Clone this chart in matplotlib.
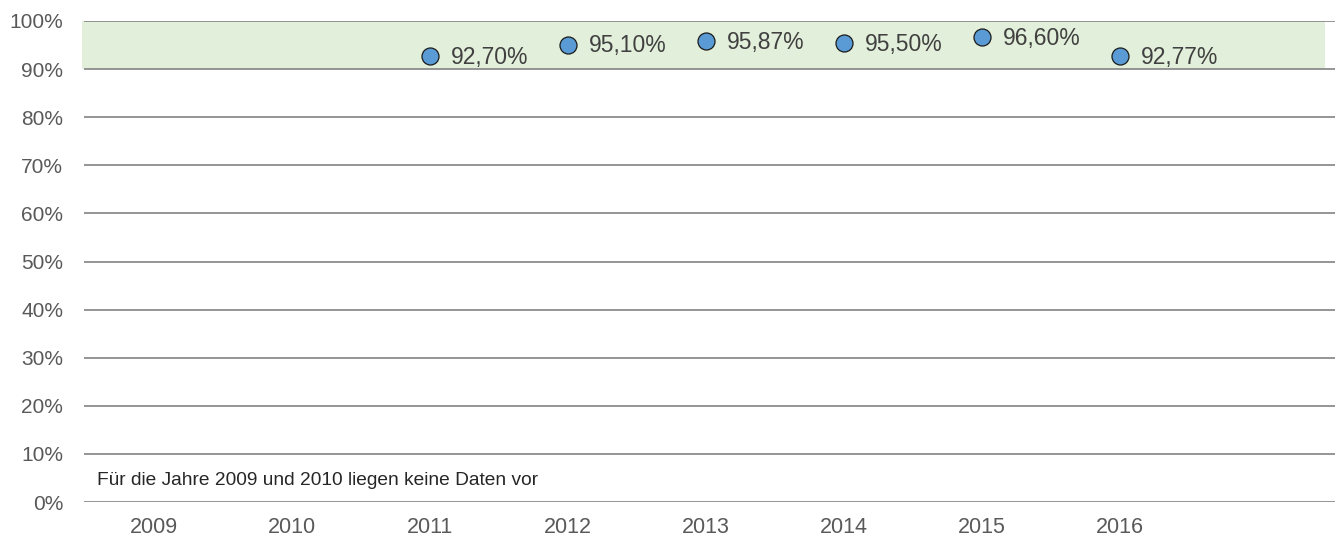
import matplotlib
matplotlib.use("Agg")
import matplotlib.pyplot as plt

plt.rcParams['font.family'] = ['Liberation Sans', 'DejaVu Sans']

years = ["2009", "2010", "2011", "2012", "2013", "2014", "2015", "2016"]
values = [None, None, 92.70, 95.10, 95.87, 95.50, 96.60, 92.77]
value_labels = ["", "", "92,70%", "95,10%", "95,87%", "95,50%", "96,60%", "92,77%"]
y_ticks = [0, 10, 20, 30, 40, 50, 60, 70, 80, 90, 100]
y_tick_labels = [f"{t}%" for t in y_ticks]
target_low, target_high = 90, 100
note = "Für die Jahre 2009 und 2010 liegen keine Daten vor"

W, H = 1335, 539
fig = plt.figure(figsize=(W / 100, H / 100), dpi=100)
ax = fig.add_axes([84 / W, (H - 502) / H, (1335 - 84) / W, (502 - 21) / H])

ax.set_xlim(-0.507, 8.558)
ax.set_ylim(0, 100)

# target corridor
ax.fill_between([-0.522, 8.486], target_low, target_high, color="#E2EFDA",
                lw=0, zorder=0, clip_on=False)

# horizontal gridlines
for t in y_ticks:
    ax.axhline(t, color="#8C8C8C", lw=1.3, zorder=1)

xs = [i for i, v in enumerate(values) if v is not None]
ys = [v for v in values if v is not None]
ax.scatter(xs, ys, s=150, color="#5B9BD5", edgecolor="#1A1A1A", linewidth=0.9, zorder=3)
for i, v in enumerate(values):
    if v is None:
        continue
    ax.annotate(value_labels[i], (i, v), xytext=(15, -1), textcoords="offset points",
                ha="left", va="center", fontsize=16.5, color="#404040", zorder=4)

ax.set_yticks(y_ticks)
ax.set_yticklabels(y_tick_labels, fontsize=15, color="#595959")
ax.set_xticks(range(len(years)))
ax.set_xticklabels(years, fontsize=15.5, color="#595959")
ax.tick_params(length=0)
ax.tick_params(axis="y", pad=15)
ax.tick_params(axis="x", pad=11)
for s in ax.spines.values():
    s.set_visible(False)

ax.text(-0.41, 4.5, note, ha="left", va="center", fontsize=13.8, color="#262626")

fig.savefig("out.png", dpi=100, facecolor="white")
